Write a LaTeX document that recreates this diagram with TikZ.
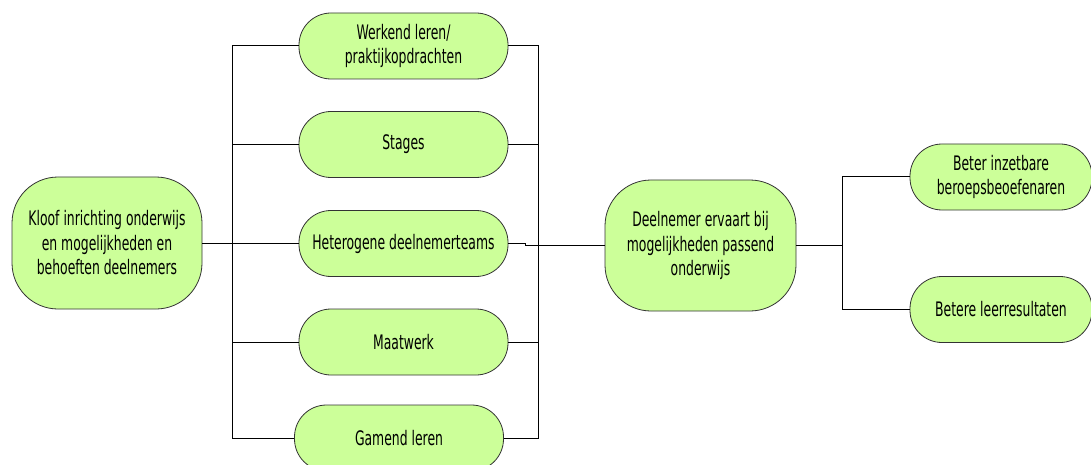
\documentclass[tikz,border=0pt]{standalone}
\usepackage{fontspec}
\setmainfont{DejaVu Sans}[FakeStretch=0.62]
\definecolor{boxgreen}{RGB}{204,255,153}
\begin{document}
\begin{tikzpicture}[x=1pt,y=-1pt,
  box/.style={draw=black!80, line width=0.8pt, fill=boxgreen, rounded corners=32pt,
    minimum width=209pt, minimum height=66pt, align=center, inner sep=0pt,
    font=\fontsize{20}{24.5}\selectfont},
  big/.style={box, rounded corners=46pt, minimum width=190pt, minimum height=132pt},
  link/.style={line width=1pt, black}]
\useasboundingbox (0,0) rectangle (1091,465);

% bus positions
\coordinate (lx) at (232,0);
\coordinate (rx) at (538,0);
\coordinate (ex) at (842,0);

% nodes
\node[big] (gap) at (107,243) {Kloof inrichting onderwijs\\en mogelijkheden en\\behoeften deelnemers};
\node[box] (work) at (403.5,46) {Werkend leren/\\praktijkopdrachten};
\node[box] (stage) at (403.5,144.5) {Stages};
\node[box] (team) at (403.5,243.5) {Heterogene deelnemerteams};
\node[box] (custom) at (403.5,342) {Maatwerk};
\node[box] (game) at (399,438) {Gamend leren};
\node[big, minimum width=191pt, minimum height=131pt] (fit) at (700.5,245.5) {Deelnemer ervaart bij\\mogelijkheden passend\\onderwijs};
\node[box, minimum width=182pt] (employ) at (1001,177) {Beter inzetbare\\beroepsbeoefenaren};
\node[box, minimum width=182pt] (results) at (1001,309.5) {Betere leerresultaten};

% left bus
\draw[link] (gap.east) -- (gap.east -| lx);
\draw[link] (lx |- work.west) -- (lx |- game.west);
\foreach \n in {work,stage,team,custom,game}
  \draw[link] (lx |- \n.west) -- (\n.west);

% right bus
\draw[link] (work.east) -- (work.east -| rx) -- (game.east -| rx) -- (game.east);
\draw[link] (stage.east) -- (stage.east -| rx);
\draw[link] (custom.east) -- (custom.east -| rx);
\draw[link] (team.east) -- ++(17,0) |- (fit.west);

% outcomes
\draw[link] (fit.east) -- (fit.east -| ex);
\draw[link] (employ.west) -- (employ.west -| ex) -- (results.west -| ex) -- (results.west);
\end{tikzpicture}
\end{document}
